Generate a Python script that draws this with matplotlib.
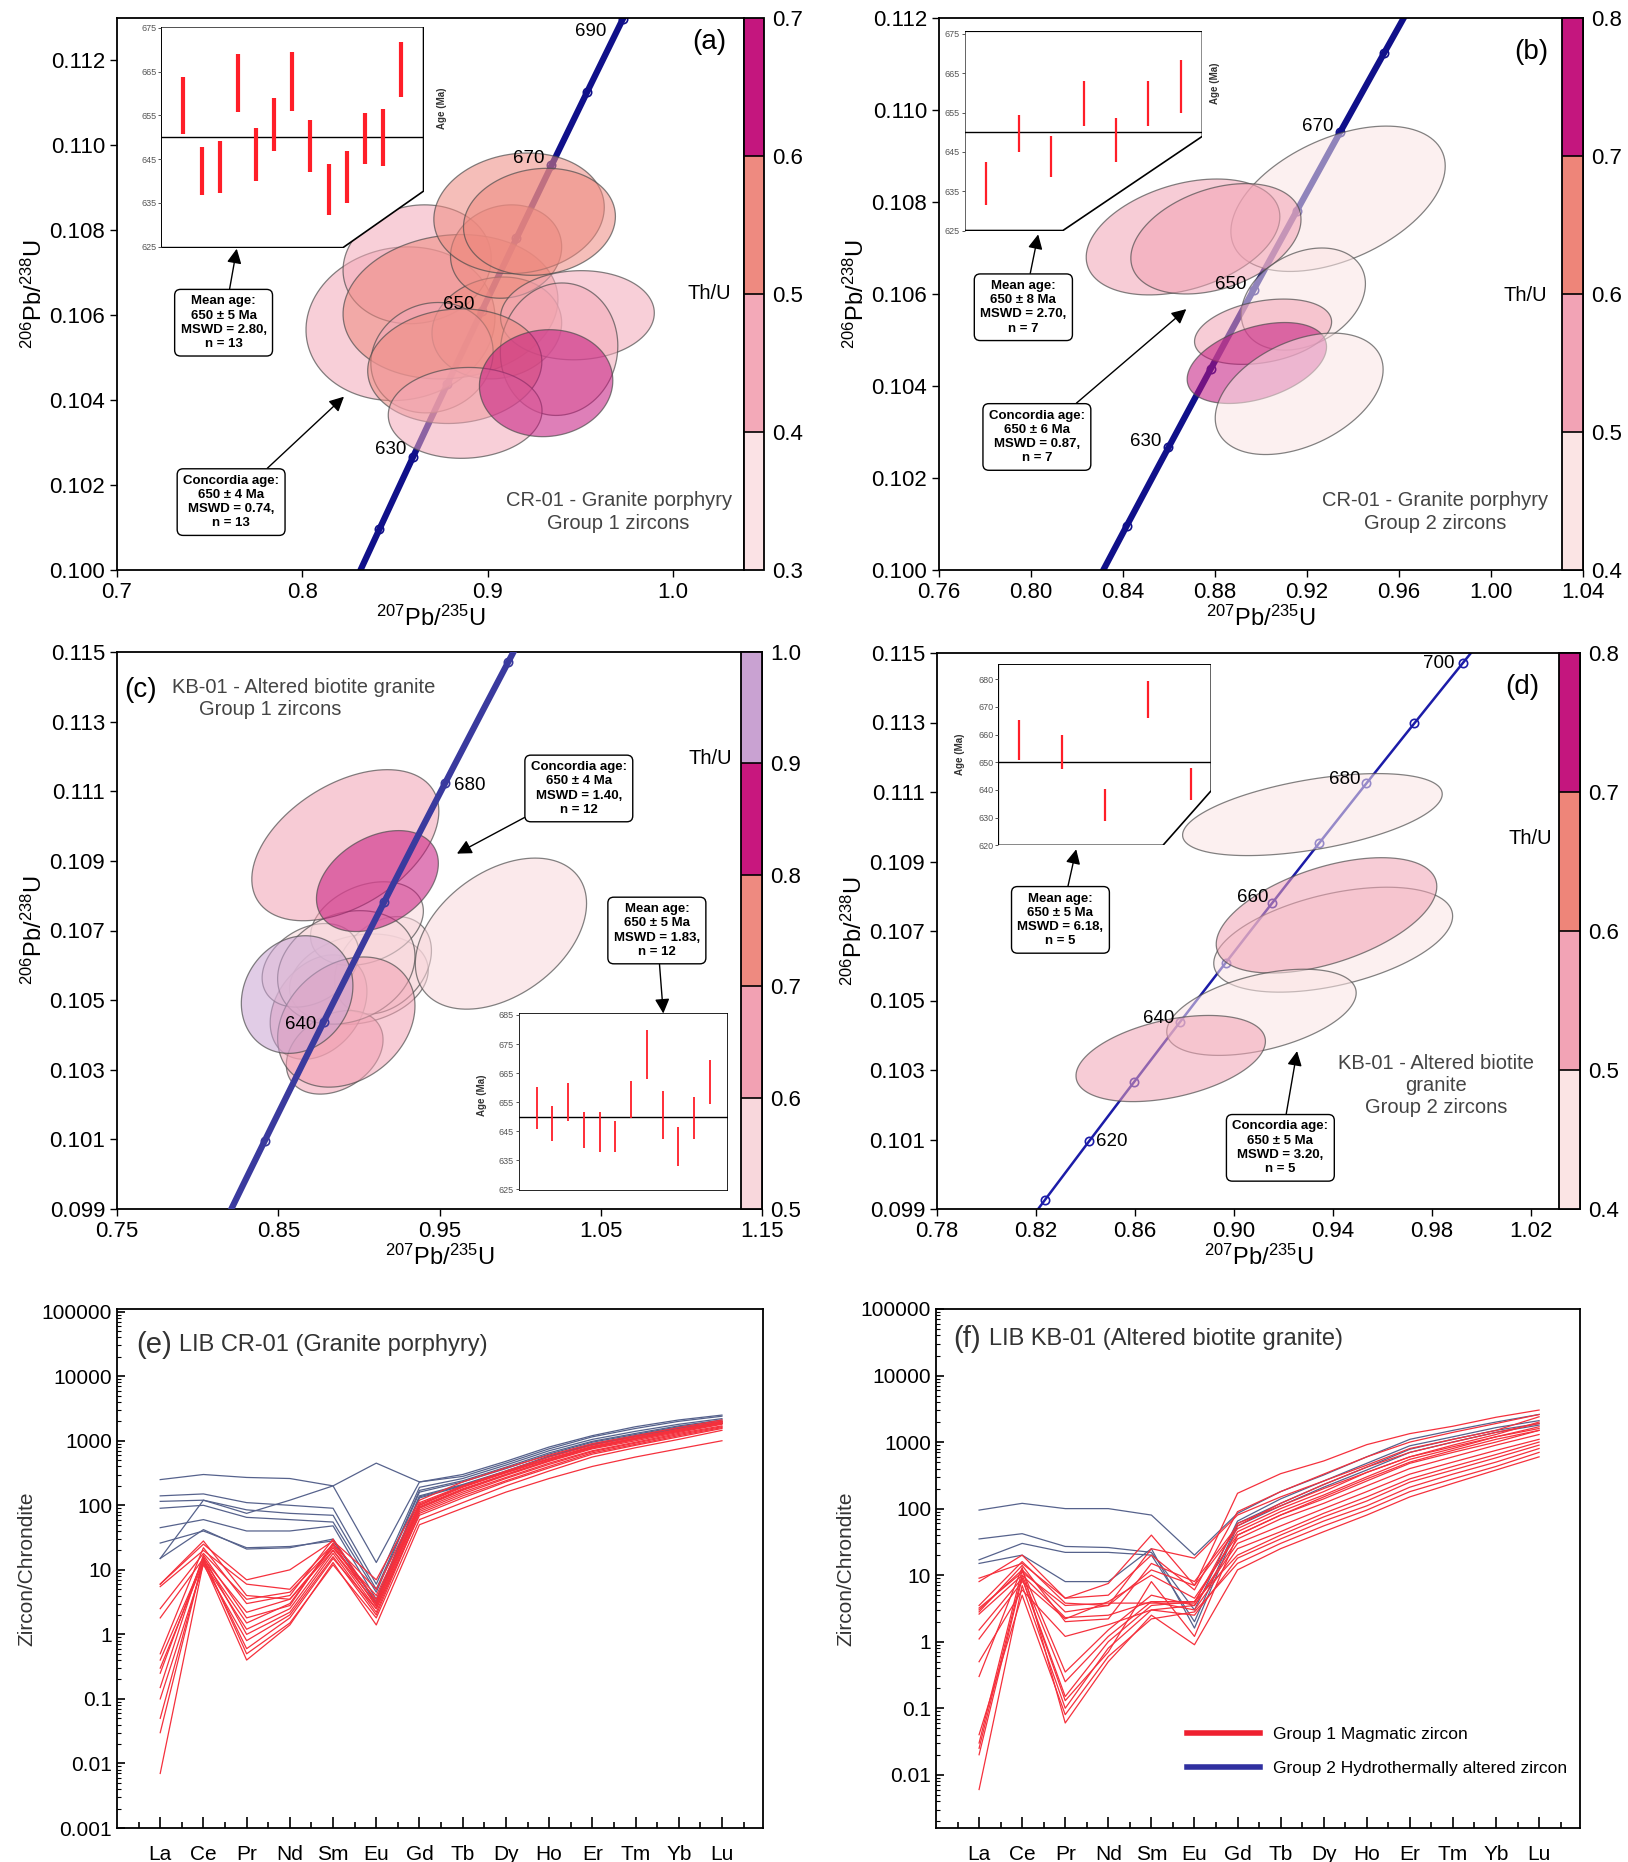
import numpy as np
import matplotlib
matplotlib.use('Agg')
import matplotlib.pyplot as plt
from matplotlib.patches import Polygon
from matplotlib.colors import ListedColormap, BoundaryNorm, to_rgba
from matplotlib.cm import ScalarMappable
from matplotlib.lines import Line2D

plt.rcParams['font.family'] = ['Liberation Sans', 'DejaVu Sans']
plt.rcParams['mathtext.fontset'] = 'custom'
plt.rcParams['mathtext.rm'] = 'Liberation Sans'
plt.rcParams['mathtext.it'] = 'Liberation Sans:italic'
plt.rcParams['mathtext.bf'] = 'Liberation Sans:bold'

# decay constants (per Ma) for the concordia curve
LAM238 = 1.55125e-4
LAM235 = 9.8485e-4

# ---- concordia panels: ellipses (centre x, centre y, half-width, half-height, rho, Th/U)
a_cx = [0.853, 0.862, 0.880, 0.905, 0.870, 0.910, 0.917, 0.928, 0.9485, 0.9386, 0.8823, 0.8879, 0.9316]
a_cy = [0.1058, 0.1072, 0.1062, 0.1057, 0.1050, 0.1075, 0.1084, 0.1082, 0.1060, 0.1052, 0.1048, 0.1037, 0.1044]
a_sx = [0.051, 0.040, 0.058, 0.035, 0.033, 0.030, 0.046, 0.041, 0.0415, 0.0317, 0.047, 0.0415, 0.036]
a_sy = [0.00181, 0.0014, 0.0017, 0.0012, 0.0013, 0.0011, 0.00142, 0.00126, 0.00105, 0.00156, 0.00135, 0.00107, 0.00126]
a_rho = [0.08, 0.1, 0.1, 0.1, 0.1, 0.1, 0.1, 0.1, 0.05, 0.05, 0.08, 0.05, 0.05]
a_thu = [0.42, 0.45, 0.55, 0.52, 0.48, 0.50, 0.52, 0.55, 0.45, 0.47, 0.53, 0.47, 0.66]

b_cx = [0.9335, 0.8661, 0.8804, 0.9184, 0.9009, 0.8982, 0.9166]
b_cy = [0.10807, 0.10724, 0.10720, 0.10589, 0.10518, 0.10450, 0.10383]
b_sx = [0.0466, 0.0421, 0.0370, 0.0270, 0.0298, 0.0303, 0.0365]
b_sy = [0.00158, 0.00126, 0.00120, 0.00111, 0.00071, 0.00088, 0.00132]
b_rho = [0.45, 0.35, 0.35, 0.3, 0.3, 0.4, 0.4]
b_thu = [0.42, 0.56, 0.54, 0.45, 0.52, 0.73, 0.43]

c_cx = [0.900, 0.915, 0.875, 0.905, 0.885, 0.870, 0.8922, 0.8916, 0.9881, 0.9115, 0.8922, 0.8617]
c_cy = [0.1056, 0.1060, 0.1048, 0.1072, 0.1035, 0.1060, 0.10594, 0.10945, 0.10691, 0.10842, 0.10437, 0.10516]
c_sx = [0.043, 0.030, 0.030, 0.035, 0.030, 0.030, 0.0426, 0.058, 0.0531, 0.0378, 0.0426, 0.0346]
c_sy = [0.0013, 0.0014, 0.0015, 0.0012, 0.0012, 0.0012, 0.00163, 0.00217, 0.00217, 0.00145, 0.00187, 0.00169]
c_rho = [0.2, 0.3, 0.3, 0.3, 0.3, 0.3, 0.2, 0.45, 0.4, 0.35, 0.25, 0.15]
c_thu = [0.53, 0.54, 0.62, 0.55, 0.63, 0.56, 0.52, 0.63, 0.55, 0.83, 0.64, 0.95]

d_cx = [0.9318, 0.9402, 0.9375, 0.9112, 0.8745]
d_cy = [0.11035, 0.10675, 0.10745, 0.10466, 0.10333]
d_sx = [0.0525, 0.0483, 0.0446, 0.0383, 0.0383]
d_sy = [0.00118, 0.00151, 0.00166, 0.00124, 0.00124]
d_rho = [0.5, 0.45, 0.5, 0.45, 0.4]
d_thu = [0.43, 0.45, 0.56, 0.47, 0.55]

# Th/U colour scales
a_bounds = [0.3, 0.4, 0.5, 0.6, 0.7]
b_bounds = [0.4, 0.5, 0.6, 0.7, 0.8]
c_bounds = [0.5, 0.6, 0.7, 0.8, 0.9, 1.0]
d_bounds = [0.4, 0.5, 0.6, 0.7, 0.8]
a_colors = ['#fbe2e5', '#f3a9b8', '#ee8a80', '#c4167e']
b_colors = ['#fbe4e4', '#f2a3b5', '#ee8579', '#c4167e']
c_colors = ['#f8d7dc', '#f2a1b3', '#ee8a80', '#c8177e', '#c9a2d2']
d_colors = ['#fbe4e4', '#f2a3b5', '#ee8579', '#c4167e']

# weighted mean age insets (Ma)
a_lo = [650.7, 636.7, 637.2, 655.8, 639.9, 646.8, 656.1, 642.1, 632.2, 635.1, 643.9, 643.5, 659.2]
a_hi = [663.7, 647.8, 649.1, 669.0, 652.0, 659.0, 669.4, 654.0, 643.9, 646.8, 655.5, 656.4, 671.8]
b_lo = [631.5, 645.0, 638.5, 651.7, 642.5, 651.7, 655.0]
b_hi = [642.5, 654.5, 649.0, 663.0, 653.7, 663.0, 668.5]
c_lo = [645.9, 641.5, 648.7, 639.4, 638.0, 638.0, 649.5, 663.1, 642.3, 632.9, 642.3, 654.5]
c_hi = [660.3, 653.8, 661.7, 651.6, 651.6, 648.7, 662.4, 679.7, 658.8, 646.6, 656.7, 669.6]
d_lo = [650.9, 647.5, 628.7, 665.9, 636.4]
d_hi = [665.1, 659.8, 640.2, 679.2, 647.8]

# ---- REE spider diagrams (chondrite normalised)
ree = ['La', 'Ce', 'Pr', 'Nd', 'Sm', 'Eu', 'Gd', 'Tb', 'Dy', 'Ho', 'Er', 'Tm', 'Yb', 'Lu']

e_group1 = [
    [6, 25, 7, 10, 28, 7, 120, 230, 380, 600, 900, 1200, 1600, 2100],
    [5.5, 20, 6, 5, 25, 5, 110, 200, 340, 560, 850, 1150, 1500, 2000],
    [2.5, 18, 3.5, 4.5, 22, 3.5, 100, 190, 320, 520, 800, 1100, 1450, 1900],
    [1.8, 15, 2.2, 3.5, 20, 3, 95, 180, 300, 500, 780, 1050, 1400, 1850],
    [0.4, 14, 1.5, 3, 24, 2.8, 90, 170, 290, 480, 750, 1000, 1350, 1800],
    [0.3, 13, 1.2, 2.5, 20, 2.5, 85, 160, 270, 450, 700, 950, 1300, 1700],
    [0.25, 16, 1.0, 2.2, 18, 2.2, 80, 150, 260, 430, 680, 920, 1250, 1650],
    [0.1, 12, 0.8, 2, 16, 2, 75, 140, 240, 400, 650, 880, 1200, 1600],
    [0.05, 14, 0.6, 1.8, 15, 2.5, 70, 130, 230, 380, 620, 850, 1150, 1550],
    [0.03, 15, 0.5, 1.5, 12, 1.8, 60, 110, 200, 340, 560, 780, 1050, 1450],
    [0.007, 13, 0.4, 1.4, 13, 1.4, 50, 90, 160, 260, 400, 560, 750, 1000],
    [0.5, 22, 3, 4, 30, 3.2, 100, 200, 330, 530, 820, 1100, 1500, 2000],
    [0.15, 17, 1.8, 2.8, 26, 2.7, 92, 175, 300, 490, 770, 1050, 1400, 1850],
    [6, 28, 4, 3.5, 22, 4, 105, 195, 320, 520, 800, 1080, 1450, 1950],
]
e_group2 = [
    [15, 120, 75, 120, 200, 450, 230, 300, 480, 800, 1200, 1650, 2100, 2500],
    [250, 300, 270, 260, 200, 13, 230, 280, 450, 750, 1150, 1550, 2000, 2400],
    [140, 150, 110, 100, 90, 6, 190, 260, 420, 700, 1050, 1400, 1800, 2200],
    [115, 120, 85, 75, 70, 5, 170, 240, 390, 650, 980, 1300, 1700, 2100],
    [90, 100, 65, 60, 55, 4.5, 160, 230, 370, 620, 950, 1250, 1650, 2000],
    [45, 60, 40, 40, 48, 3.5, 140, 210, 340, 580, 900, 1200, 1600, 1900],
    [26, 40, 22, 23, 28, 3.2, 135, 205, 335, 570, 880, 1180, 1570, 1870],
    [15, 42, 21, 22, 30, 3, 130, 200, 330, 560, 870, 1150, 1550, 1850],
]
f_group1 = [
    [8, 20, 4.5, 7.5, 40, 7, 170, 335, 520, 915, 1340, 1730, 2360, 3030],
    [3.5, 16, 3.8, 3.5, 25, 18, 80, 150, 260, 450, 800, 1100, 1500, 2400],
    [3, 12, 2.8, 3.5, 12, 7, 50, 100, 180, 350, 600, 900, 1300, 2000],
    [2.6, 10, 2.3, 2.5, 4, 4, 45, 90, 160, 300, 550, 800, 1200, 1700],
    [1.1, 8, 2.2, 4, 10, 4.5, 40, 80, 140, 260, 480, 700, 1000, 1500],
    [0.5, 6, 1.2, 1.8, 3, 3.5, 35, 70, 120, 220, 400, 600, 900, 1300],
    [0.03, 12, 0.35, 1.5, 5, 3.5, 30, 55, 100, 180, 330, 500, 750, 1100],
    [0.025, 10, 0.25, 1.2, 4, 3, 25, 45, 85, 150, 280, 430, 650, 1000],
    [0.02, 9, 0.15, 1.0, 3.5, 4, 20, 40, 75, 130, 250, 380, 580, 900],
    [0.006, 7, 0.1, 0.8, 3, 2.5, 18, 35, 65, 110, 210, 330, 500, 800],
    [0.04, 5, 0.08, 0.6, 2.2, 2.8, 15, 30, 55, 95, 180, 280, 430, 700],
    [0.3, 13, 0.06, 0.5, 2.5, 0.9, 12, 25, 45, 80, 150, 240, 380, 600],
    [3.2, 11, 3.5, 3.8, 3.8, 3.8, 60, 110, 200, 350, 600, 850, 1200, 1600],
    [2.8, 14, 2.0, 2.2, 15, 8, 55, 120, 230, 420, 700, 1000, 1400, 1900],
    [1.5, 9, 0.13, 0.7, 8, 1.2, 40, 80, 150, 280, 500, 750, 1100, 1500],
    [9, 15, 4.5, 5, 20, 6, 90, 180, 330, 600, 1000, 1400, 1900, 2600],
]
f_group2 = [
    [95, 120, 100, 100, 80, 20, 85, 180, 320, 600, 1100, 1500, 2000, 2600],
    [35, 42, 27, 26, 22, 3, 65, 140, 260, 480, 880, 1200, 1650, 2100],
    [17, 30, 22, 22, 20, 2, 60, 120, 230, 420, 780, 1100, 1500, 1900],
    [15, 20, 8, 8, 25, 1.6, 55, 110, 210, 380, 700, 1000, 1400, 1800],
]

W, H = 1628, 1862
fig = plt.figure(figsize=(W / 100, H / 100), dpi=100)


def box(l, t, r, b):
    return [l / W, 1 - b / H, (r - l) / W, (b - t) / H]


def concordia(t):
    return np.expm1(LAM235 * t), np.expm1(LAM238 * t)


def ellipse_pts(cx, cy, sx, sy, rho):
    t = np.linspace(0, 2 * np.pi, 120)
    x = cx + sx * np.cos(t)
    y = cy + sy * (rho * np.cos(t) + np.sqrt(1 - rho ** 2) * np.sin(t))
    return np.column_stack([x, y])


def concordia_panel(ax, cax, xlim, ylim, xticks, yticks, xfmt, ell, bounds, colors,
                    lcol, lw, line_z, mark_ages, labels):
    cmap = ListedColormap(colors)
    norm = BoundaryNorm(bounds, cmap.N)
    cx, cy, sx, sy, rho, thu = ell
    t = np.linspace(540, 760, 400)
    x, y = concordia(t)
    ax.plot(x, y, color=lcol, lw=lw, zorder=line_z, solid_capstyle='butt')
    mx, my = concordia(np.array(mark_ages, dtype=float))
    ax.plot(mx, my, 'o', ms=6, mfc='none', mec=lcol, mew=1.2, zorder=line_z)
    for i in range(len(cx)):
        p = Polygon(ellipse_pts(cx[i], cy[i], sx[i], sy[i], rho[i]), closed=True,
                    fc=to_rgba(cmap(norm(thu[i])), 0.55), ec=(0.3, 0.3, 0.3, 0.7),
                    lw=0.9, zorder=2)
        ax.add_patch(p)
    for age, dx, dy, ha in labels:
        px, py = concordia(age)
        ax.annotate(str(age), xy=(px, py), xytext=(dx, dy), textcoords='offset points',
                    ha=ha, va='center', fontsize=13.5, zorder=6)
    ax.set_xlim(xlim)
    ax.set_ylim(ylim)
    ax.set_xticks(xticks)
    ax.set_xticklabels([xfmt.format(v) for v in xticks])
    ax.set_yticks(yticks)
    ax.set_yticklabels(['{:.3f}'.format(v) for v in yticks])
    ax.tick_params(labelsize=16, length=5, width=1, direction='out')
    for s in ax.spines.values():
        s.set_linewidth(1.3)
    ax.set_xlabel(r'$^{207}$Pb/$^{235}$U', fontsize=17, labelpad=2)
    ax.set_ylabel(r'$^{206}$Pb/$^{238}$U', fontsize=17, labelpad=2)
    sm = ScalarMappable(norm=norm, cmap=cmap)
    cb = fig.colorbar(sm, cax=cax, drawedges=True, ticks=bounds)
    cb.outline.set_linewidth(1.3)
    cb.dividers.set_linewidth(1.2)
    cb.ax.tick_params(length=0, labelsize=16, pad=6)
    cb.ax.set_yticklabels(['{:.1f}'.format(v) for v in bounds])


def age_inset(ax, rect, lo, hi, ylim, yticks, cut, lw, lab_xy):
    ins = ax.inset_axes(rect)
    ins.set_zorder(8)
    for s in ins.spines.values():
        s.set_visible(False)
    ins.patch.set_visible(False)
    if cut is None:
        verts = [(0, 0), (0, 1), (1, 1), (1, 0)]
    else:
        verts = [(0, 0), (0, 1), (1, 1), (1, cut[1]), (cut[0], 0)]
    ins.add_patch(Polygon(verts, closed=True, transform=ins.transAxes, fc='white',
                          ec='black', lw=1.2, zorder=0))
    n = len(lo)
    pos = np.arange(n)
    ins.vlines(pos, lo, hi, color='#ff1e28', lw=lw, zorder=3)
    ins.axhline(650, color='black', lw=1.0, zorder=2)
    ins.set_xlim(-0.08 * (n - 1) / 0.85 - 0.1, (n - 1) + 0.08 * (n - 1) / 0.85 + 0.1)
    ins.set_ylim(ylim)
    ins.set_xticks([])
    ins.set_yticks(yticks)
    ins.tick_params(axis='y', labelsize=6.5, colors='#555555', length=2.5, width=0.7, pad=1)
    ins.text(lab_xy[0], lab_xy[1], 'Age (Ma)', transform=ins.transAxes, rotation=90,
             fontsize=7, fontweight='bold', color='#333333', ha='center', va='center')
    return ins


def note(ax, text, box_xy, tip_xy):
    ax.annotate(text, xy=tip_xy, xycoords='axes fraction', xytext=box_xy,
                textcoords='axes fraction', ha='center', va='center', fontsize=9.5,
                fontweight='bold', linespacing=1.25, zorder=10,
                bbox=dict(boxstyle='round,pad=0.45', fc='white', ec='black', lw=1),
                arrowprops=dict(arrowstyle='-|>', color='black', lw=1,
                                mutation_scale=22, shrinkA=0, shrinkB=0))


# ---------------- panel (a)
ax_a = fig.add_axes(box(117, 18, 744, 570))
cax_a = fig.add_axes(box(744, 18, 764, 570))
concordia_panel(ax_a, cax_a, (0.7, 1.0384), (0.100, 0.1130), [0.7, 0.8, 0.9, 1.0],
                np.arange(0.100, 0.1121, 0.002), '{:.1f}',
                (a_cx, a_cy, a_sx, a_sy, a_rho, a_thu), a_bounds, a_colors,
                '#10108a', 4.5, 1, list(range(610, 711, 10)),
                [(630, -5, 5, 'right'), (650, -5, 5, 'right'), (670, -5, 5, 'right'),
                 (690, -12, -9, 'right')])
age_inset(ax_a, [0.0704, 0.584, 0.4185, 0.40], a_lo, a_hi, (624.8, 675.2),
          [625, 635, 645, 655, 665, 675], (0.693, 0.256), 3.0, (1.07, 0.63))
note(ax_a, 'Mean age:\n650 ± 5 Ma\nMSWD = 2.80,\nn = 13', (0.17, 0.448), (0.191, 0.582))
note(ax_a, 'Concordia age:\n650 ± 4 Ma\nMSWD = 0.74,\nn = 13', (0.182, 0.123), (0.362, 0.314))
ax_a.text(0.80, 0.105, 'CR-01 - Granite porphyry\nGroup 1 zircons', transform=ax_a.transAxes,
          ha='center', va='center', fontsize=14.5, color='#444444', linespacing=1.3)
ax_a.text(0.945, 0.957, '(a)', transform=ax_a.transAxes, ha='center', va='center', fontsize=20)
ax_a.text(0.945, 0.501, 'Th/U', transform=ax_a.transAxes, ha='center', va='center', fontsize=14.5)

# ---------------- panel (b)
ax_b = fig.add_axes(box(939, 18, 1583, 570))
cax_b = fig.add_axes(box(1562, 18, 1583, 570))
concordia_panel(ax_b, cax_b, (0.76, 1.04), (0.100, 0.112), np.arange(0.76, 1.041, 0.04),
                np.arange(0.100, 0.1121, 0.002), '{:.2f}',
                (b_cx, b_cy, b_sx, b_sy, b_rho, b_thu), b_bounds, b_colors,
                '#10108a', 4.5, 1, list(range(610, 711, 10)),
                [(630, -5, 4, 'right'), (650, -5, 4, 'right'), (670, -5, 4, 'right')])
age_inset(ax_b, [0.040, 0.615, 0.369, 0.361], b_lo, b_hi, (625, 675.7),
          [625, 635, 645, 655, 665, 675], (0.413, 0.473), 1.6, (1.055, 0.74))
note(ax_b, 'Mean age:\n650 ± 8 Ma\nMSWD = 2.70,\nn = 7', (0.131, 0.476), (0.154, 0.608))
note(ax_b, 'Concordia age:\n650 ± 6 Ma\nMSWD = 0.87,\nn = 7', (0.152, 0.241), (0.384, 0.4726))
ax_b.text(0.77, 0.105, 'CR-01 - Granite porphyry\nGroup 2 zircons', transform=ax_b.transAxes,
          ha='center', va='center', fontsize=14.5, color='#444444', linespacing=1.3)
ax_b.text(0.919, 0.939, '(b)', transform=ax_b.transAxes, ha='center', va='center', fontsize=20)
ax_b.text(0.91, 0.4975, 'Th/U', transform=ax_b.transAxes, ha='center', va='center', fontsize=14.5)

# ---------------- panel (c)
ax_c = fig.add_axes(box(117, 652, 762, 1209))
cax_c = fig.add_axes(box(741, 652, 762, 1209))
concordia_panel(ax_c, cax_c, (0.75, 1.15), (0.099, 0.115), [0.75, 0.85, 0.95, 1.05, 1.15],
                np.arange(0.099, 0.1151, 0.002), '{:.2f}',
                (c_cx, c_cy, c_sx, c_sy, c_rho, c_thu), c_bounds, c_colors,
                '#3a3a9e', 4.5, 3, list(range(600, 721, 20)),
                [(640, -5, -2, 'right'), (680, 6, -2, 'left')])
age_inset(ax_c, [0.623, 0.0325, 0.324, 0.3185], c_lo, c_hi, (624.5, 685.5),
          [625, 635, 645, 655, 665, 675, 685], None, 1.3, (-0.175, 0.54))
note(ax_c, 'Concordia age:\n650 ± 4 Ma\nMSWD = 1.40,\nn = 12', (0.716, 0.755), (0.527, 0.638))
note(ax_c, 'Mean age:\n650 ± 5 Ma\nMSWD = 1.83,\nn = 12', (0.837, 0.50), (0.847, 0.351))
ax_c.text(0.036, 0.932, '(c)', transform=ax_c.transAxes, ha='center', va='center', fontsize=20)
ax_c.text(0.085, 0.937, 'KB-01 - Altered biotite granite', transform=ax_c.transAxes,
          ha='left', va='center', fontsize=14.5, color='#444444')
ax_c.text(0.237, 0.896, 'Group 1 zircons', transform=ax_c.transAxes,
          ha='center', va='center', fontsize=14.5, color='#444444')
ax_c.text(0.92, 0.808, 'Th/U', transform=ax_c.transAxes, ha='center', va='center', fontsize=14.5)

# ---------------- panel (d)
ax_d = fig.add_axes(box(937, 653, 1580, 1209))
cax_d = fig.add_axes(box(1559, 653, 1580, 1209))
concordia_panel(ax_d, cax_d, (0.78, 1.04), (0.099, 0.115), np.arange(0.78, 1.021, 0.04),
                np.arange(0.099, 0.1151, 0.002), '{:.2f}',
                (d_cx, d_cy, d_sx, d_sy, d_rho, d_thu), d_bounds, d_colors,
                '#1c1ca8', 1.8, 1, list(range(610, 711, 10)),
                [(620, 5, 0, 'left'), (640, -4, 3, 'right'), (660, -3, 4, 'right'),
                 (680, -4, 3, 'right'), (700, -6, 0, 'right')])
age_inset(ax_d, [0.0953, 0.654, 0.3312, 0.326], d_lo, d_hi, (620, 685.4),
          [620, 630, 640, 650, 660, 670, 680], (0.773, 0.302), 1.6, (-0.178, 0.5))
note(ax_d, 'Mean age:\n650 ± 5 Ma\nMSWD = 6.18,\nn = 5', (0.192, 0.52), (0.2165, 0.647))
note(ax_d, 'Concordia age:\n650 ± 5 Ma\nMSWD = 3.20,\nn = 5', (0.534, 0.11), (0.56, 0.284))
ax_d.text(0.776, 0.223, 'KB-01 - Altered biotite\ngranite\nGroup 2 zircons',
          transform=ax_d.transAxes, ha='center', va='center', fontsize=14.5,
          color='#444444', linespacing=1.2)
ax_d.text(0.911, 0.938, '(d)', transform=ax_d.transAxes, ha='center', va='center', fontsize=20)
ax_d.text(0.923, 0.666, 'Th/U', transform=ax_d.transAxes, ha='center', va='center', fontsize=14.5)


# ---------------- REE panels
def ree_panel(ax, g1, g2, ylim, ylabels, tag, title, tag_xy, title_x):
    xs = np.arange(len(ree))
    for row in g2:
        ax.plot(xs, row, color='#56628c', lw=0.9)
    for row in g1:
        ax.plot(xs, row, color='#f5303c', lw=0.9)
    ax.set_yscale('log')
    ax.set_ylim(ylim)
    ax.set_xlim(-1, len(ree) - 0.05)
    ax.set_xticks(xs)
    ax.set_xticklabels(ree)
    ax.set_xticks(np.arange(-0.5, len(ree), 1), minor=True)
    vals = [float(v) for v in ylabels]
    ax.set_yticks(vals)
    ax.set_yticklabels(ylabels)
    ax.yaxis.set_minor_locator(matplotlib.ticker.LogLocator(base=10, subs=np.arange(2, 10), numticks=20))
    ax.yaxis.set_minor_formatter(matplotlib.ticker.NullFormatter())
    ax.tick_params(axis='x', which='major', direction='in', length=8, width=1.2,
                   labelsize=15, pad=12)
    ax.tick_params(axis='x', which='minor', direction='in', length=4, width=1.2)
    ax.tick_params(axis='y', which='major', direction='in', length=6, width=1.2, labelsize=15)
    ax.tick_params(axis='y', which='minor', direction='in', length=3, width=0.8)
    for s in ax.spines.values():
        s.set_linewidth(1.3)
    ax.set_ylabel('Zircon/Chrondite', fontsize=15, color='#333333')
    ax.text(tag_xy[0], tag_xy[1], tag, transform=ax.transAxes, fontsize=21, va='center',
            ha='left', color='#333333')
    ax.text(title_x, tag_xy[1], title, transform=ax.transAxes, fontsize=17, va='center',
            ha='left', color='#333333')


ax_e = fig.add_axes(box(117, 1309, 763, 1828))
ree_panel(ax_e, e_group1, e_group2, (0.001, 1.1e5),
          ['0.001', '0.01', '0.1', '1', '10', '100', '1000', '10000', '100000'],
          '(e)', 'LIB CR-01 (Granite porphyry)', (0.03, 0.93), 0.096)

ax_f = fig.add_axes(box(936, 1309, 1580, 1828))
ree_panel(ax_f, f_group1, f_group2, (10 ** -2.8, 1.0e5),
          ['0.01', '0.1', '1', '10', '100', '1000', '10000', '100000'],
          '(f)', 'LIB KB-01 (Altered biotite granite)', (0.027, 0.942), 0.083)
handles = [Line2D([], [], color='#ef2030', lw=4), Line2D([], [], color='#3030a0', lw=4)]
ax_f.legend(handles, ['Group 1 Magmatic zircon', 'Group 2 Hydrothermally altered zircon'],
            loc='lower left', bbox_to_anchor=(0.365, 0.07), frameon=False, fontsize=12.5,
            handlelength=4.2, labelspacing=1.1)

fig.savefig('out.png', dpi=100)
